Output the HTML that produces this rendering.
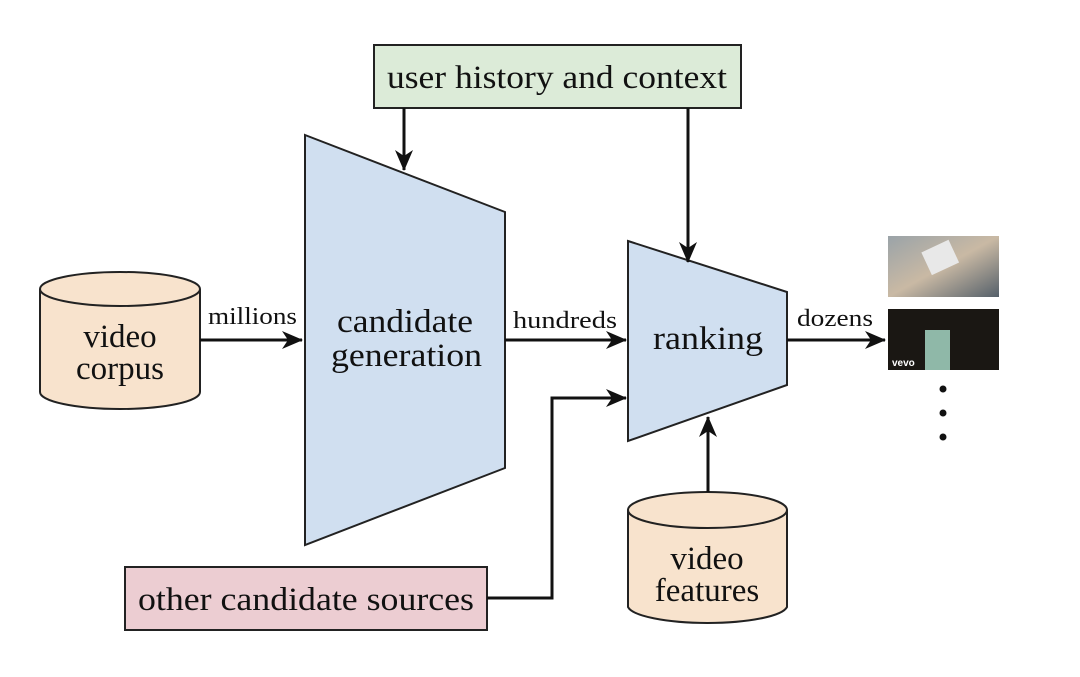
<!DOCTYPE html>
<html><head><meta charset="utf-8"><style>html,body{margin:0;padding:0;background:#fff}</style></head>
<body>
<svg width="1080" height="672" viewBox="0 0 1080 672" xmlns="http://www.w3.org/2000/svg" font-family="'Liberation Serif', serif" fill="#111">
<defs>
<marker id="a" markerWidth="22" markerHeight="18" refX="20" refY="9" orient="auto" markerUnits="userSpaceOnUse">
<path d="M0,0 L21,9 L0,18 L6,9 Z" fill="#111"/></marker>
<linearGradient id="g1" x1="0" y1="0" x2="1" y2="1"><stop offset="0" stop-color="#9aa3a8"/><stop offset="0.5" stop-color="#c9b9a4"/><stop offset="1" stop-color="#55606a"/></linearGradient>
</defs>
<rect x="374" y="45" width="367" height="63" fill="#dcebd8" stroke="#222" stroke-width="2"/>
<text x="387" y="88" font-size="33" textLength="340" lengthAdjust="spacingAndGlyphs">user history and context</text>
<polygon points="305,135 505,212 505,468 305,545" fill="#d0dff0" stroke="#222" stroke-width="2"/>
<text x="337" y="332" font-size="33" textLength="136" lengthAdjust="spacingAndGlyphs">candidate</text>
<text x="331" y="366" font-size="33" textLength="151" lengthAdjust="spacingAndGlyphs">generation</text>
<polygon points="628,241 787,292 787,385 628,441" fill="#d0dff0" stroke="#222" stroke-width="2"/>
<text x="653" y="349" font-size="33" textLength="110" lengthAdjust="spacingAndGlyphs">ranking</text>
<path d="M40,289 L40,392 A80,17 0 0 0 200,392 L200,289" fill="#f8e3cd" stroke="#222" stroke-width="2"/>
<ellipse cx="120" cy="289" rx="80" ry="17" fill="#f8e3cd" stroke="#222" stroke-width="2"/>
<text x="120" y="347" font-size="33" text-anchor="middle">video</text>
<text x="120" y="379" font-size="33" text-anchor="middle">corpus</text>
<path d="M628,510 L628,607 A80,18 0 0 0 787,607 L787,510" fill="#f8e3cd" stroke="#222" stroke-width="2"/>
<ellipse cx="707.5" cy="510" rx="79.5" ry="18" fill="#f8e3cd" stroke="#222" stroke-width="2"/>
<text x="707" y="569" font-size="33" text-anchor="middle">video</text>
<text x="707" y="601" font-size="33" text-anchor="middle">features</text>
<rect x="125" y="567" width="362" height="63" fill="#eccdd2" stroke="#222" stroke-width="2"/>
<text x="138" y="610" font-size="33" textLength="336" lengthAdjust="spacingAndGlyphs">other candidate sources</text>
<g stroke="#111" stroke-width="3" fill="none" marker-end="url(#a)">
<line x1="200" y1="340" x2="302" y2="340"/>
<line x1="505" y1="340" x2="626" y2="340"/>
<line x1="787" y1="340" x2="885" y2="340"/>
<line x1="404" y1="108" x2="404" y2="170"/>
<line x1="688" y1="108" x2="688" y2="262"/>
<line x1="708" y1="492" x2="708" y2="417"/>
<polyline points="487,598 552,598 552,398 626,398"/>
</g>
<text x="208" y="324" font-size="24" textLength="89" lengthAdjust="spacingAndGlyphs">millions</text>
<text x="513" y="328" font-size="24" textLength="104" lengthAdjust="spacingAndGlyphs">hundreds</text>
<text x="797" y="326" font-size="24" textLength="76" lengthAdjust="spacingAndGlyphs">dozens</text>
<rect x="888" y="236" width="111" height="61" fill="url(#g1)"/>
<rect x="925" y="245" width="30" height="25" fill="#e8e8e8" transform="rotate(-25 940 257)"/>
<rect x="888" y="309" width="111" height="61" fill="#1a1713"/>
<rect x="925" y="330" width="25" height="40" fill="#8fb8a8"/>
<text x="892" y="366" font-size="10" fill="#fff" font-family="'Liberation Sans',sans-serif" font-weight="bold">vevo</text>
<circle cx="943" cy="389" r="3.5"/>
<circle cx="943" cy="413" r="3.5"/>
<circle cx="943" cy="437" r="3.5"/>
</svg>
</body></html>
